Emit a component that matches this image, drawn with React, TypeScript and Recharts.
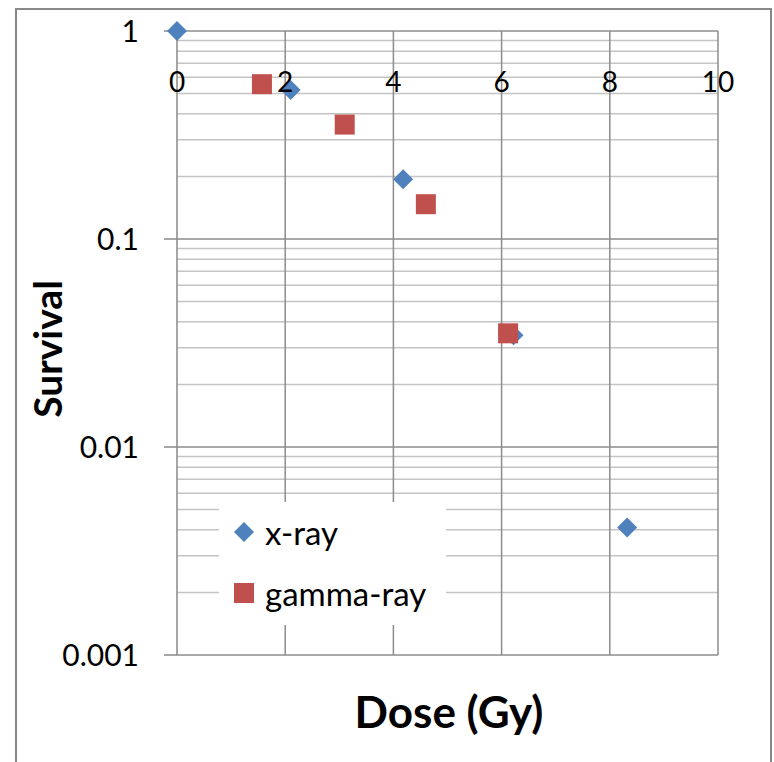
import React from 'react';
import { ScatterChart, Scatter, XAxis, YAxis, ReferenceLine, Legend } from 'recharts';

// ---- data ----
const xrayDose = [0, 2.1, 4.18, 6.22, 8.32];
const xraySurvival = [1, 0.52, 0.194, 0.0345, 0.0041];
const gammaDose = [1.57, 3.1, 4.6, 6.12];
const gammaSurvival = [0.555, 0.355, 0.147, 0.0352];
const seriesNames = ['x-ray', 'gamma-ray'];
const xTicks = [0, 2, 4, 6, 8, 10];
const yMajorTicks = [0.001, 0.01, 0.1, 1];
const yMinorSteps = [2, 3, 4, 5, 6, 7, 8, 9];
const xTitle = 'Dose (Gy)';
const yTitle = 'Survival';

const xrayData = xrayDose.map((d, i) => ({ dose: d, survival: xraySurvival[i] }));
const gammaData = gammaDose.map((d, i) => ({ dose: d, survival: gammaSurvival[i] }));
const yMinorTicks: number[] = [];
yMajorTicks.slice(0, -1).forEach((m) => yMinorSteps.forEach((s) => yMinorTicks.push(+(m * s).toPrecision(3))));

const BLUE = '#4F81BD';
const RED = '#C0504D';
const FONT = 'Lato, "Open Sans", sans-serif';

const Diamond = (props: any) => {
  const { cx, cy } = props;
  if (cx == null || cy == null) return null;
  const r = 10;
  return <path d={`M${cx} ${cy - r}L${cx + r} ${cy}L${cx} ${cy + r}L${cx - r} ${cy}Z`} fill={BLUE} />;
};
const Square = (props: any) => {
  const { cx, cy } = props;
  if (cx == null || cy == null) return null;
  const h = 10;
  return <rect x={cx - h} y={cy - h} width={2 * h} height={2 * h} fill={RED} />;
};

const XTick = (props: any) => (
  <text x={props.x} y={92} textAnchor="middle" fontSize={28} fontFamily={FONT} fill="#000">
    {props.payload.value}
  </text>
);

const LegendContent = () => (
  <div style={{ fontFamily: FONT, fontSize: 33, color: '#000', position: 'relative', width: '100%', height: '100%' }}>
    <div style={{ position: 'absolute', left: 14, top: 10, display: 'flex', alignItems: 'center', height: 40 }}>
      <svg width={22} height={22} style={{ marginRight: 10 }}>
        <path d="M11 1L21 11L11 21L1 11Z" fill={BLUE} />
      </svg>
      <span>{seriesNames[0]}</span>
    </div>
    <div style={{ position: 'absolute', left: 14, top: 71, display: 'flex', alignItems: 'center', height: 40 }}>
      <svg width={22} height={22} style={{ marginRight: 10 }}>
        <rect x={1} y={1} width={20} height={20} fill={RED} />
      </svg>
      <span>{seriesNames[1]}</span>
    </div>
  </div>
);

export default function App() {
  return (
    <div style={{ position: 'absolute', left: 0, top: 0, width: 774, height: 762, overflow: 'hidden', background: '#fff' }}>
      <div
        style={{
          position: 'absolute',
          left: 15,
          top: 8,
          width: 753,
          height: 800,
          border: '2px solid #888',
        }}
      />
      <div style={{ position: 'absolute', left: 0, top: 0 }}>
        <ScatterChart width={774} height={762} margin={{ top: 1, right: 56, bottom: 107, left: 17 }}>
          <XAxis
            type="number"
            dataKey="dose"
            orientation="top"
            height={30}
            domain={[0, 10]}
            ticks={xTicks}
            interval={0}
            tick={<XTick />}
            tickLine={false}
            axisLine={false}
          />
          <YAxis
            type="number"
            dataKey="survival"
            scale="log"
            domain={[0.001, 1]}
            ticks={yMajorTicks}
            interval={0}
            width={160}
            tickSize={13}
            tickMargin={25}
            tickLine={{ stroke: '#888', strokeWidth: 1.5 }}
            axisLine={{ stroke: '#888', strokeWidth: 1.5 }}
            tickFormatter={(v: number) => String(v)}
            tick={{ fontSize: 30, fill: '#000', fontFamily: FONT }}
          />
          {yMinorTicks.map((v) => (
            <ReferenceLine key={'m' + v} y={v} stroke="#c4c4c4" strokeWidth={1.5} />
          ))}
          {yMajorTicks.map((v) => (
            <ReferenceLine key={'M' + v} y={v} stroke="#8c8c8c" strokeWidth={1.5} />
          ))}
          {xTicks.slice(1).map((v) => (
            <ReferenceLine key={'x' + v} x={v} stroke="#8c8c8c" strokeWidth={1.5} />
          ))}
          <Scatter name={seriesNames[0]} data={xrayData} fill={BLUE} shape={<Diamond />} isAnimationActive={false} />
          <Scatter name={seriesNames[1]} data={gammaData} fill={RED} shape={<Square />} isAnimationActive={false} />
          <Legend
            layout="horizontal"
            verticalAlign="middle"
            align="center"
            content={<LegendContent />}
            wrapperStyle={{ position: 'absolute', left: 219, top: 502, width: 227, height: 123, background: '#fff', bottom: 'auto', right: 'auto' }}
          />
          <text x={449} y={728} textAnchor="middle" fontSize={44} fontWeight="bold" fontFamily={FONT} fill="#000">
            {xTitle}
          </text>
          <text transform="translate(62,349) rotate(-90)" textAnchor="middle" fontSize={39} fontWeight="bold" fontFamily={FONT} fill="#000">
            {yTitle}
          </text>
        </ScatterChart>
      </div>
    </div>
  );
}
